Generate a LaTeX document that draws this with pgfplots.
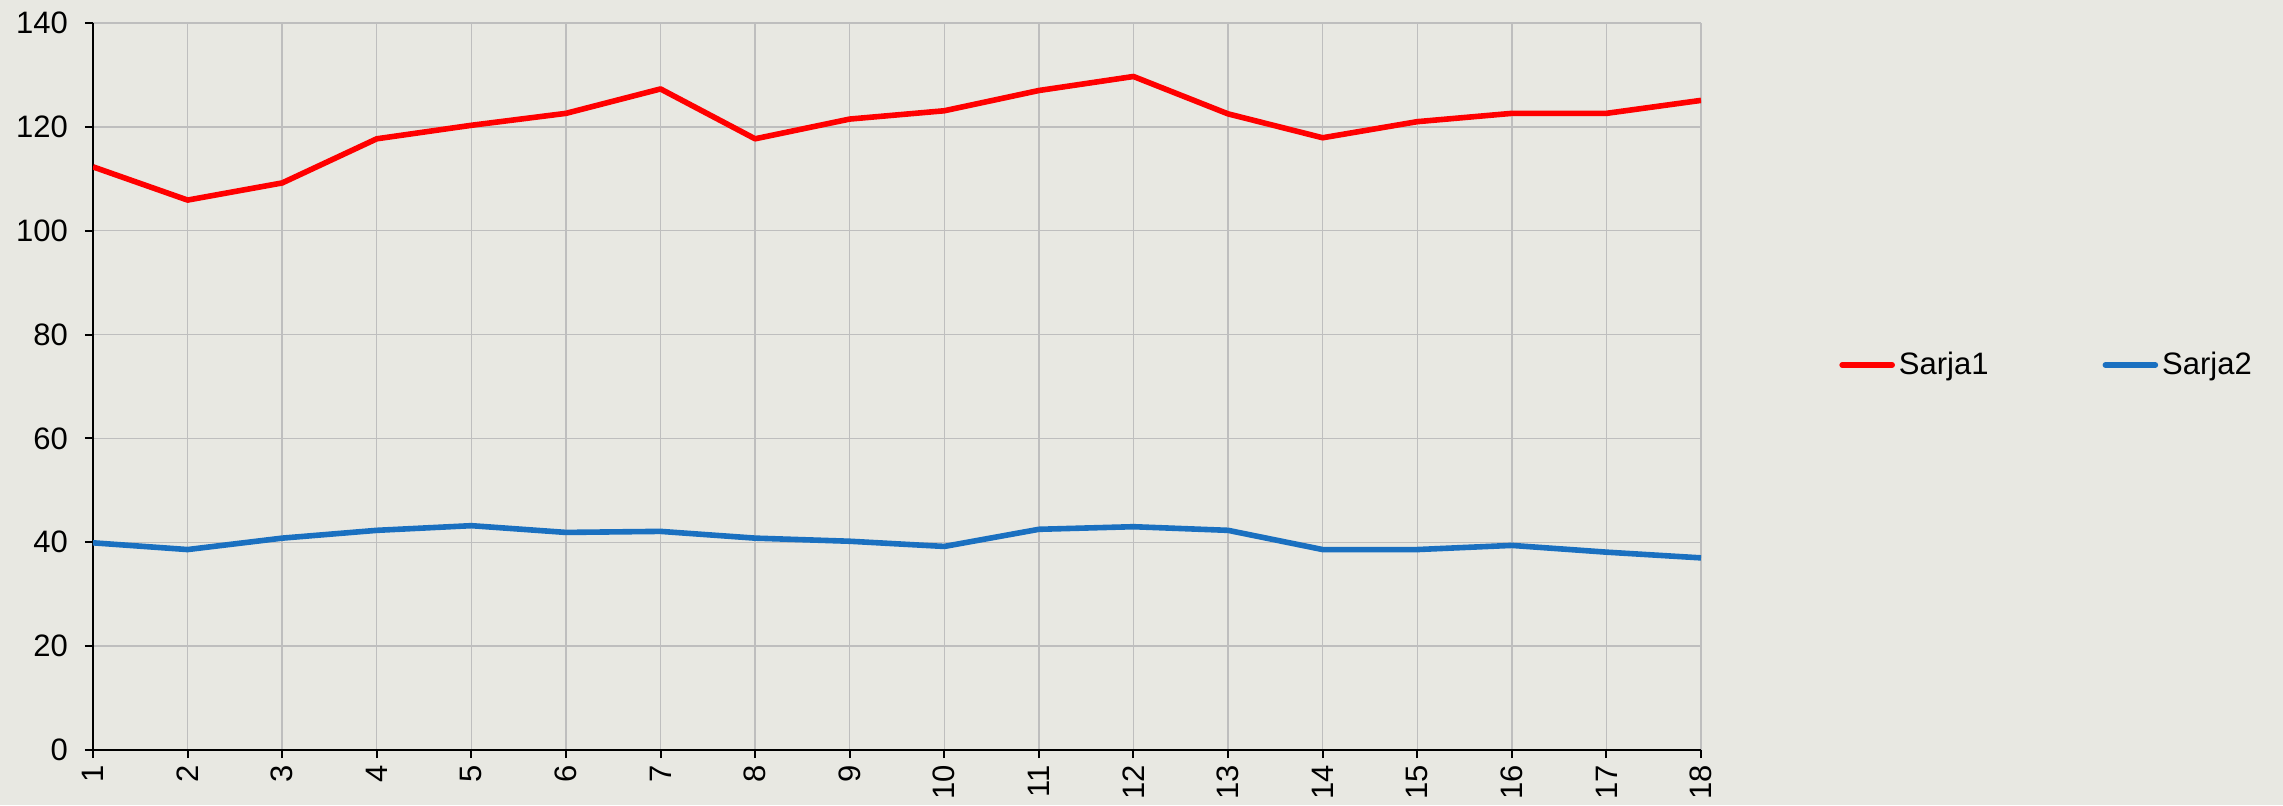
\documentclass[border=0pt]{standalone}
\usepackage{fontspec}
\setmainfont{Liberation Sans}
\usepackage{pgfplots}
\pgfplotsset{compat=1.18}
\definecolor{bgcol}{HTML}{E8E8E2}
\definecolor{gridcol}{HTML}{BEBEBE}
\definecolor{sred}{HTML}{FF0000}
\definecolor{sblue}{HTML}{1A70C0}
\begin{document}
\begin{tikzpicture}
\fill[bgcol] (0,0) rectangle (1141.5pt,402.5pt);
\useasboundingbox (0,0) rectangle (1141.5pt,402.5pt);
\begin{axis}[
  at={(46.5pt,27.5pt)}, anchor=south west,
  scale only axis, width=804pt, height=363.5pt,
  xmin=1, xmax=18, ymin=0, ymax=140,
  xtick={1,...,18}, ytick={0,20,...,140},
  axis x line=bottom, axis y line=left,
  axis line style={-, black, line width=1pt},
  tick align=outside, major tick length=4pt,
  tick style={black, line width=1pt},
  grid=major, major grid style={gridcol, line width=0.7pt},
  /pgf/number format/assume math mode=true,
  ticklabel style={font=\fontsize{15.5}{18}\selectfont},
  xticklabel style={rotate=90, anchor=east},
  yticklabel style={xshift=-5pt},
  legend columns=2,
  legend style={at={(1.0858,0.5296)}, anchor=west, draw=none, fill=none, inner sep=0pt,
    font=\fontsize{15.5}{18}\selectfont, /tikz/every even column/.append style={column sep=55pt}},
  legend image code/.code={\draw[#1, line cap=round] (0pt,0pt) -- (25pt,0pt);},
  every axis plot/.append style={line width=2.8pt, line join=round},
]
\addplot[sred, mark=none] coordinates {
(1,112.3) (2,105.9) (3,109.2) (4,117.7) (5,120.3) (6,122.6) (7,127.3) (8,117.7) (9,121.5)
(10,123.1) (11,127.0) (12,129.7) (13,122.5) (14,117.9) (15,121.0) (16,122.6) (17,122.6) (18,125.1)};
\addlegendentry{Sarja1}
\addplot[sblue, mark=none] coordinates {
(1,39.9) (2,38.6) (3,40.8) (4,42.3) (5,43.2) (6,41.9) (7,42.1) (8,40.8) (9,40.2)
(10,39.2) (11,42.5) (12,43.0) (13,42.3) (14,38.6) (15,38.6) (16,39.4) (17,38.1) (18,37.0)};
\addlegendentry{Sarja2}
\end{axis}
\end{tikzpicture}
\end{document}
